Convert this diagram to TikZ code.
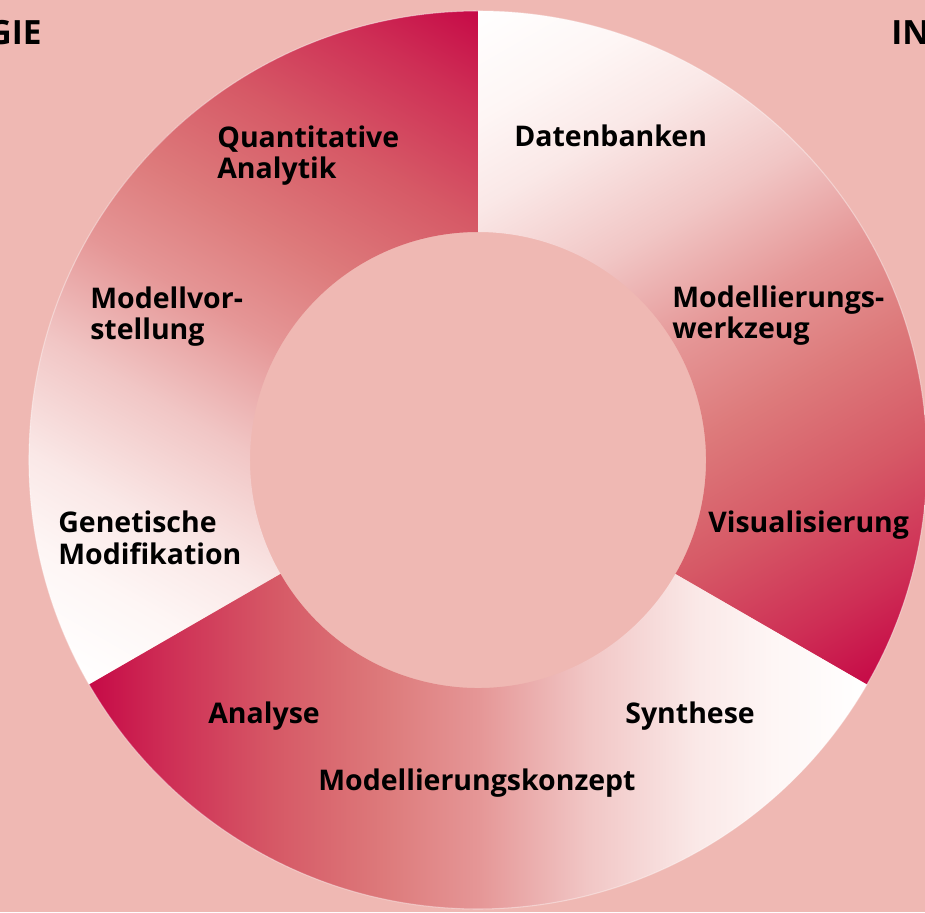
\documentclass[tikz,border=0pt]{standalone}
\usepackage{fontspec}
\setmainfont{Open Sans}

\definecolor{backpink}{HTML}{EFB8B3}
\definecolor{fadeA}{HTML}{FEF6F5}
\definecolor{fadeB}{HTML}{FAE8E7}
\definecolor{fadeC}{HTML}{F1C6C5}
\definecolor{fadeD}{HTML}{E59696}
\definecolor{fadeE}{HTML}{DD7A7B}
\definecolor{fadeF}{HTML}{D65966}
\definecolor{fadeG}{HTML}{CE2E55}
\definecolor{crimson}{HTML}{C60A47}

% white -> crimson, the middle 50bp is what lands on the path
\pgfdeclarehorizontalshading{ringfade}{100bp}{%
  color(0bp)=(white); color(25bp)=(white); color(31bp)=(fadeA);
  color(36bp)=(fadeB); color(43bp)=(fadeC); color(50bp)=(fadeD);
  color(56bp)=(fadeE); color(63bp)=(fadeF); color(70bp)=(fadeG);
  color(75bp)=(crimson); color(100bp)=(crimson)}

\tikzset{
  seglabel/.style={font=\bfseries\fontsize{16.2}{18.2}\selectfont, align=left,
    inner sep=0pt, anchor=base west},
  sidelabel/.style={font=\bfseries\fontsize{19}{22}\selectfont, inner sep=0pt}
}

\begin{document}
\begin{tikzpicture}
  %%%%% BACKGROUND %%%%%
  \fill[backpink] (-9.56,-9.04) rectangle (8.94,9.20);
  \useasboundingbox (-9.56,-9.04) rectangle (8.94,9.20);

  %%%%% RING: three segments, each fading clockwise %%%%%
  \foreach \mid in {30,150,270}{
    \begin{scope}[transform canvas={rotate=\mid-90}]
      \clip (150:8.98) arc (150:30:8.98) -- (30:4.56) arc (30:150:4.56) -- cycle;
      \shade[shading=ringfade] (-7.78,0) rectangle (7.78,8.98);
    \end{scope}
  }
  \draw[white, opacity=0.4, line width=0.6pt] (0,0) circle (8.98);

  %%%%% LABELS (base = last line) %%%%%
  \node[sidelabel, anchor=base east] (gie) at (-8.72,8.30) {GIE};
  \node[sidelabel, anchor=base west] (in) at (8.26,8.30) {IN};

  \node[seglabel] (quant) at (-5.22,5.62) {Quantitative\\Analytik};
  \node[seglabel] (daten) at (0.72,6.26) {Datenbanken};
  \node[seglabel] (vorst) at (-7.76,2.40) {Modellvor-\\stellung};
  \node[seglabel] (werkz) at (3.88,2.42) {Modellierungs-\\werkzeug};
  \node[seglabel] (genet) at (-8.40,-2.08) {Genetische\\Modifikation};
  \node[seglabel] (visual) at (4.60,-1.44) {Visualisierung};
  \node[seglabel] (analy) at (-5.40,-5.26) {Analyse};
  \node[seglabel] (synth) at (2.94,-5.26) {Synthese};
  \node[seglabel] (konz) at (-3.20,-6.60) {Modellierungskonzept};
\end{tikzpicture}
\end{document}
